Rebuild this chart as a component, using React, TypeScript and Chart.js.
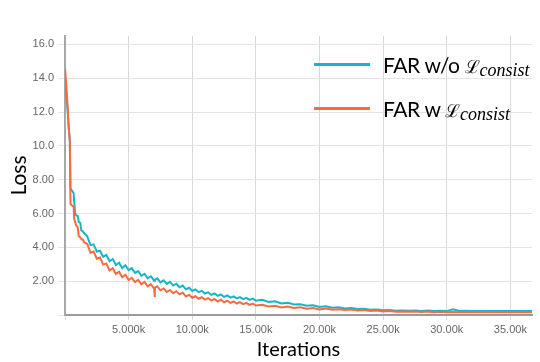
import React, { useEffect, useRef } from 'react';
import { Chart, registerables } from 'chart.js';

Chart.register(...registerables);

// Training iterations (x positions of the logged points)
const iterations = [
  0, 100, 200, 300, 380, 430, 500, 600, 680, 720, 800, 880, 1000, 1080, 1200, 1280, 1400, 1500,
  1750, 2000, 2250, 2500, 2750, 3000, 3250, 3500, 3750, 4000, 4250, 4500, 4750, 5000, 5250, 5500,
  5750, 6000, 6250, 6500, 6750, 7000, 7050, 7070,
  7250, 7500, 7750, 8000, 8250, 8500, 8750, 9000, 9250, 9500, 9750, 10000, 10250, 10500, 10750,
  11000, 11250, 11500, 11750, 12000, 12250, 12500, 12750, 13000, 13250, 13500, 13750, 14000,
  14250, 14500, 14750, 15000,
  15500, 16000, 16500, 17000, 17500, 18000, 18500, 19000, 19500, 20000, 20500, 21000, 21500,
  22000, 22500, 23000, 23500, 24000, 24500, 25000, 25500, 26000, 26500, 27000, 27500, 28000,
  28500, 29000, 29500, 30000, 30500, 31000, 31500, 32000, 32500, 33000, 33500, 34000, 34500,
  35000, 35500, 36000, 36500, 36700,
];

// FAR w/o L_consist (teal)
const lossWithout = [
  13.9, 13.0, 12.2, 11.0, 10.4, 7.5, 7.4, 7.3, 7.2, 6.7, 6.0, 5.9, 5.85, 5.5, 5.45, 5.0, 4.95, 4.85,
  4.65, 4.13, 4.18, 3.75, 3.80, 3.44, 3.55, 3.18, 3.31, 2.96, 3.09, 2.77, 2.94, 2.65, 2.77, 2.49,
  2.60, 2.32, 2.44, 2.17, 2.29, 2.03, 2.06, 2.08,
  2.17, 1.93, 2.05, 1.84, 1.96, 1.74, 1.85, 1.64, 1.74, 1.52, 1.61, 1.43, 1.51, 1.35, 1.43,
  1.27, 1.34, 1.19, 1.28, 1.13, 1.22, 1.07, 1.16, 1.03, 1.10, 0.98, 1.06, 0.94,
  1.01, 0.89, 0.97, 0.85,
  0.90, 0.77, 0.81, 0.68, 0.72, 0.62, 0.64, 0.55, 0.57, 0.48, 0.51, 0.43, 0.46,
  0.39, 0.41, 0.35, 0.37, 0.31, 0.33, 0.28, 0.30, 0.25, 0.27, 0.25, 0.26, 0.24,
  0.26, 0.24, 0.25, 0.23, 0.34, 0.24, 0.25, 0.23, 0.24, 0.23, 0.24, 0.23, 0.24,
  0.23, 0.24, 0.23, 0.24, 0.23,
];

// FAR w L_consist (orange)
const lossWith = [
  14.6, 13.6, 12.4, 11.0, 10.2, 6.6, 6.5, 6.45, 6.4, 5.7, 5.5, 5.3, 5.2, 4.65, 4.6, 4.5, 4.45, 4.3,
  4.20, 3.68, 3.75, 3.33, 3.40, 2.98, 3.05, 2.63, 2.77, 2.42, 2.56, 2.23, 2.38, 2.07, 2.20, 1.94,
  2.08, 1.82, 1.96, 1.69, 1.82, 1.56, 1.06, 1.62,
  1.70, 1.46, 1.57, 1.36, 1.48, 1.29, 1.41, 1.22, 1.32, 1.10, 1.19, 1.02, 1.11, 0.96, 1.05,
  0.91, 1.00, 0.85, 0.95, 0.80, 0.90, 0.75, 0.85, 0.72, 0.80, 0.68, 0.76, 0.64,
  0.72, 0.60, 0.68, 0.56,
  0.61, 0.50, 0.55, 0.45, 0.50, 0.42, 0.46, 0.37, 0.41, 0.33, 0.38, 0.31, 0.34,
  0.29, 0.32, 0.26, 0.29, 0.23, 0.26, 0.21, 0.23, 0.19, 0.21, 0.19, 0.20, 0.18,
  0.20, 0.17, 0.19, 0.17, 0.18, 0.17, 0.18, 0.16, 0.18, 0.16, 0.17, 0.16, 0.17,
  0.16, 0.17, 0.16, 0.17, 0.16,
];

const xTickValues = [0, 5000, 10000, 15000, 20000, 25000, 30000, 35000];
const xTickLabels = ['', '5.000k', '10.00k', '15.00k', '20.00k', '25.00k', '30.00k', '35.00k'];
const yTickValues = [0, 2, 4, 6, 8, 10, 12, 14, 16];
const yTickLabels = ['', '2.00', '4.00', '6.00', '8.00', '10.0', '12.0', '14.0', '16.0'];

const TEAL = '#17b4ca';
const ORANGE = '#fb6a3c';

export default function App() {
  const canvasRef = useRef<HTMLCanvasElement | null>(null);

  useEffect(() => {
    const canvas = canvasRef.current;
    if (!canvas) return;
    const chart = new Chart(canvas, {
      type: 'line',
      data: {
        datasets: [
          {
            label: 'FAR w/o L_consist',
            data: iterations.map((x, i) => ({ x, y: lossWithout[i] })),
            borderColor: TEAL,
            backgroundColor: TEAL,
            borderWidth: 2,
            pointRadius: 0,
            tension: 0,
            order: 2,
          },
          {
            label: 'FAR w L_consist',
            data: iterations.map((x, i) => ({ x, y: lossWith[i] })),
            borderColor: ORANGE,
            backgroundColor: ORANGE,
            borderWidth: 2,
            pointRadius: 0,
            tension: 0,
            order: 1,
          },
        ],
      },
      options: {
        responsive: false,
        animation: false,
        devicePixelRatio: 1,
        layout: { padding: { top: 36, right: 8, left: 0, bottom: 0 } },
        plugins: { legend: { display: false }, tooltip: { enabled: false } },
        scales: {
          x: {
            type: 'linear',
            min: 0,
            max: 36700,
            afterBuildTicks: (scale: any) => {
              scale.ticks = xTickValues.map((v) => ({ value: v }));
            },
            afterFit: (scale: any) => {
              scale.height = 47;
            },
            ticks: {
              autoSkip: false,
              maxRotation: 0,
              padding: 3,
              color: '#666',
              font: { family: 'Liberation Sans', size: 11 },
              callback: (value: any) => {
                const i = xTickValues.indexOf(Number(value));
                return i >= 0 ? xTickLabels[i] : '';
              },
            },
            grid: { color: '#d9d9d9', tickLength: 5, lineWidth: 1 },
            border: { color: '#9a9a9a', width: 2 },
            title: {
              display: true,
              text: 'Iterations',
              color: '#000',
              font: { family: 'Lato', size: 20 },
              padding: { top: 0, bottom: 0 },
            },
          },
          y: {
            type: 'linear',
            min: 0,
            max: 16.5,
            afterBuildTicks: (scale: any) => {
              scale.ticks = yTickValues.map((v) => ({ value: v }));
            },
            afterFit: (scale: any) => {
              scale.width = 65;
            },
            ticks: {
              padding: 4,
              color: '#666',
              font: { family: 'Liberation Sans', size: 11 },
              callback: (value: any) => {
                const i = yTickValues.indexOf(Number(value));
                return i >= 0 ? yTickLabels[i] : '';
              },
            },
            grid: { color: '#e3e3e3', tickLength: 7, lineWidth: 1 },
            border: { color: '#a8a8a8', width: 2 },
            title: {
              display: true,
              text: 'Loss',
              color: '#000',
              font: { family: 'Lato', size: 21 },
              padding: { top: 7, bottom: 0 },
            },
          },
        },
      },
    });
    return () => chart.destroy();
  }, []);

  const textStyle: React.CSSProperties = {
    position: 'absolute',
    left: 383,
    fontFamily: 'Lato',
    fontSize: 21,
    letterSpacing: '-0.4px',
    lineHeight: '21px',
    color: '#000',
    whiteSpace: 'nowrap',
  };
  const scriptL: React.CSSProperties = { fontFamily: 'DejaVu Serif', fontSize: 18, letterSpacing: 0 };
  const subStyle: React.CSSProperties = {
    fontFamily: 'Liberation Serif',
    fontStyle: 'italic',
    fontSize: 18,
    letterSpacing: 0,
    position: 'relative',
    top: 3,
  };

  return (
    <div style={{ position: 'fixed', left: 0, top: 0, width: 540, height: 362, background: '#fff' }}>
      <canvas ref={canvasRef} width={540} height={362} style={{ width: 540, height: 362, display: 'block' }} />
      <div style={{ position: 'absolute', left: 314, top: 63, width: 56, height: 3, background: TEAL }} />
      <div style={{ ...textStyle, top: 54 }}>
        FAR w/o <span style={scriptL}>ℒ</span><span style={subStyle}>consist</span>
      </div>
      <div style={{ position: 'absolute', left: 314, top: 107, width: 56, height: 3, background: ORANGE }} />
      <div style={{ ...textStyle, top: 98 }}>
        FAR w <span style={scriptL}>ℒ</span><span style={subStyle}>consist</span>
      </div>
    </div>
  );
}
